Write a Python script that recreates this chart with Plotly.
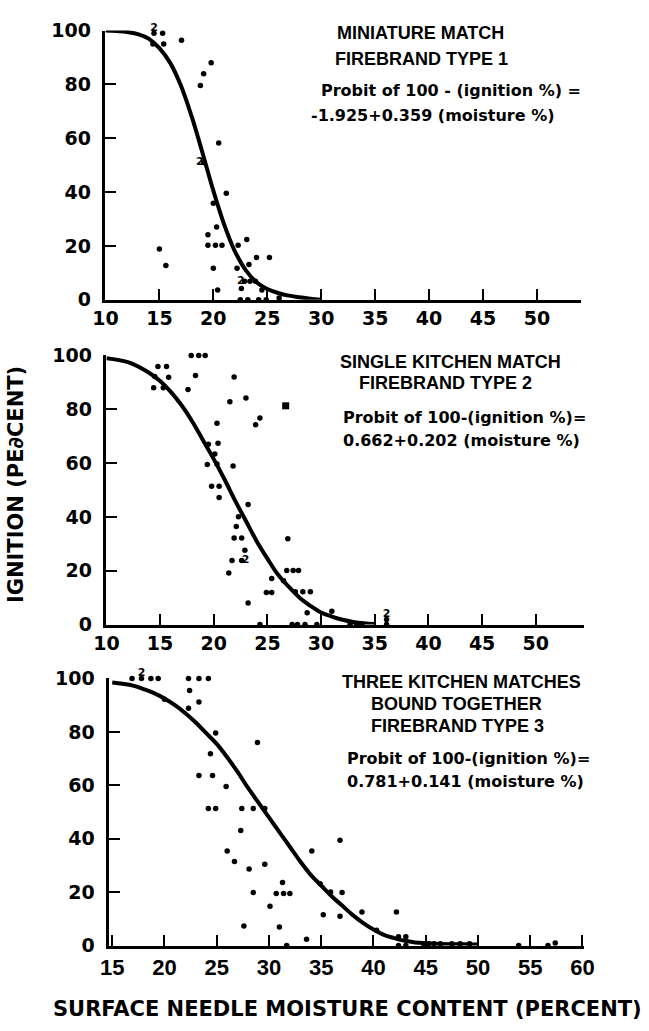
import plotly.graph_objects as go

W, H = 649, 1031

# ---------------- data ----------------
# Panel 1: miniature match
p1_x = [14.5, 15.3, 14.4, 15.4, 17.05, 19.8, 19.1, 18.8, 19.1, 20.5, 21.2, 20.0, 20.3, 19.5, 19.5,
        20.2, 20.8, 22.3, 23.1, 20.0, 22.2, 24.0, 25.2, 15.0, 15.6, 22.9, 23.4, 23.9, 23.3, 22.6,
        24.5, 20.4, 22.5, 23.2, 24.2, 24.9, 26.1]
p1_y = [99, 99, 95, 95, 96.4, 88, 84, 79.6, 51, 58.2, 39.6, 35.8, 27, 24.1, 20.2,
        20.2, 20.2, 20.2, 22.4, 11.7, 11.7, 15.7, 15.7, 18.8, 12.7, 6.9, 6.9, 6.9, 13.1, 4.2,
        3.6, 3.6, 0, 0, 0, 0, 0.6]
p1_curve_x = [10, 11, 12, 13, 14, 15, 16, 17, 18, 19, 20, 21, 22, 23, 24, 25, 26, 27, 28, 29, 30]
p1_curve_y = [100, 99.8, 99.5, 98.7, 97, 93.5, 88, 79.5, 68, 54.5, 40.5, 28, 18, 11, 6.5, 4, 2.5,
              1.5, 0.9, 0.4, 0]
p1_dup_x = [14.5, 19.1, 22.9]
p1_dup_y = [99, 51, 6.9]
p1_dup_pos = ["top center", "middle left", "middle left"]

# Panel 2: single kitchen match
p2_x = [17.9, 18.6, 19.2, 14.8, 15.6, 14.5, 15.8, 14.4, 15.3, 17.6, 18.3, 21.9, 21.5, 23.0, 24.3,
        23.9, 20.3, 19.5, 20.4, 20.1, 21.8, 19.4, 20.3, 19.8, 20.5, 20.5, 23.2, 22.3, 22.1, 21.9,
        22.6, 22.9, 21.7, 22.6, 21.4, 23.2, 25.4, 24.9, 25.4, 26.9, 26.8, 27.4, 27.9, 26.5, 27.6,
        28.3, 29.0, 28.7, 31.0, 24.3, 27.3, 27.8, 28.5, 29.6, 32.7, 33.3, 33.8, 36.1, 36.1]
p2_y = [100, 100, 100, 95.9, 95.9, 92.2, 91.9, 88, 88, 87.4, 92.6, 92, 82.8, 84.2, 76.8,
        74.3, 74.8, 67, 67.4, 63.4, 58.9, 59.5, 59.7, 51.4, 51.4, 47.2, 44.6, 40.1, 36.5, 32.2,
        32.2, 27.6, 23.8, 23.8, 19.2, 8, 17.1, 11.9, 11.9, 31.9, 20.1, 20.1, 20.1, 16.3, 12.2,
        12.2, 12.2, 4.4, 5.0, 0, 0, 0, 0, 0, 0, 0, 0, 1.9, 0]
p2_sq_x = [26.7]
p2_sq_y = [81.3]
p2_curve_x = [10, 12, 14, 15, 16, 17, 18, 19, 20, 21, 22, 23, 24, 25, 26, 27, 28, 29, 30, 31, 32,
              33, 34, 35]
p2_curve_y = [99, 97.5, 93.5, 90.5, 86.5, 81.5, 75.5, 68.5, 61.5, 54, 46, 38.5, 31, 24.5, 18.5, 14,
              10, 7, 4.5, 3, 1.8, 1, 0.5, 0.2]
p2_dup_x = [22.6, 36.1]
p2_dup_y = [23.8, 1.9]
p2_dup_pos = ["middle right", "top center"]

# Panel 3: three kitchen matches
p3_x = [16.9, 17.8, 18.7, 19.4, 22.3, 23.3, 24.2, 22.4, 23.3, 20.0, 22.3, 24.9, 28.9, 24.4, 23.3,
        24.6, 25.9, 24.2, 24.9, 27.4, 28.5, 29.6, 27.3, 26.0, 26.7, 28.1, 29.6, 28.5, 31.3, 30.7,
        31.4, 32.0, 30.1, 27.6, 31.0, 31.7, 34.1, 34.9, 35.2, 33.6, 36.8, 35.9, 37.0, 36.8, 38.9,
        42.2, 40.3, 42.4, 43.1, 42.4, 43.1, 44.8, 45.3, 45.8, 46.4, 47.5, 48.3, 49.2, 53.9, 56.7,
        57.4]
p3_y = [100, 100, 100, 100, 100, 100, 100, 95.5, 91.2, 92.2, 88.8, 79.6, 76, 71.8, 63.7,
        63.7, 59.6, 51.3, 51.3, 51.3, 51.3, 51.3, 43.1, 35.4, 31.5, 28.7, 30.5, 19.9, 23.6, 19.5,
        19.5, 19.5, 14.7, 7.3, 7, 0, 35.4, 23.2, 11.6, 2.4, 39.4, 20.1, 19.9, 11, 12.6,
        12.6, 5.8, 3.3, 3.3, 0, 0, 0.7, 0.7, 0.7, 0.7, 0.7, 0.7, 0.7, 0, 0,
        1]
p3_curve_x = [15, 16, 17, 18, 19, 20, 21, 22, 23, 24, 25, 26, 27, 28, 29, 30, 31, 32, 33, 34, 35,
              36, 37, 38, 39, 40, 41, 42, 43, 44, 45, 46, 48, 50]
p3_curve_y = [98.5, 98, 97.3, 96, 94.5, 92.5, 90, 87, 83.5, 79.5, 75.5, 70.5, 65, 59, 53.5, 48,
              42.5, 37, 31.5, 26.5, 22.5, 18.5, 15, 11.5, 8.5, 6, 4, 2.8, 1.8, 1.2, 0.9, 0.7,
              0.5, 0.4]
p3_dup_x = [17.8]
p3_dup_y = [100]
p3_dup_pos = ["top center"]

y_ticks = [0, 20, 40, 60, 80, 100]
x_ticks_12 = [10, 15, 20, 25, 30, 35, 40, 45, 50]
x_ticks_3 = [15, 20, 25, 30, 35, 40, 45, 50, 55, 60]

# ---------------- figure ----------------
fig = go.Figure()

def add_panel(xs, ys, cx, cy, dx, dy, dpos, xa, ya):
    fig.add_trace(go.Scatter(x=cx, y=cy, mode="lines", line=dict(color="black", width=4, shape="spline"),
                             xaxis=xa, yaxis=ya, hoverinfo="skip", cliponaxis=False))
    fig.add_trace(go.Scatter(x=xs, y=ys, mode="markers", marker=dict(color="black", size=5.5),
                             xaxis=xa, yaxis=ya, cliponaxis=False))
    fig.add_trace(go.Scatter(x=dx, y=dy, mode="text", text=["2"] * len(dx), textposition=dpos,
                             textfont=dict(family="DejaVu Sans", size=11, color="black", weight="bold"),
                             xaxis=xa, yaxis=ya, cliponaxis=False))

add_panel(p1_x, p1_y, p1_curve_x, p1_curve_y, p1_dup_x, p1_dup_y, p1_dup_pos, "x", "y")
add_panel(p2_x, p2_y, p2_curve_x, p2_curve_y, p2_dup_x, p2_dup_y, p2_dup_pos, "x2", "y2")
fig.add_trace(go.Scatter(x=p2_sq_x, y=p2_sq_y, mode="markers",
                         marker=dict(color="black", size=7, symbol="square"),
                         xaxis="x2", yaxis="y2", cliponaxis=False))
add_panel(p3_x, p3_y, p3_curve_x, p3_curve_y, p3_dup_x, p3_dup_y, p3_dup_pos, "x3", "y3")

tickfont = dict(family="DejaVu Sans", size=19, color="black", weight="bold")
common = dict(showline=True, linecolor="black", linewidth=2.5, ticks="inside", ticklen=11,
              tickwidth=2, tickcolor="black", showgrid=False, zeroline=False, fixedrange=True,
              tickfont=tickfont)
ycommon = dict(common, ticklabelstandoff=8)

fig.update_layout(
    width=W, height=H, margin=dict(l=0, r=0, t=0, b=0),
    paper_bgcolor="white", plot_bgcolor="white", showlegend=False,
    xaxis=dict(domain=[96 / W, 590 / W], range=[10, 54.1], anchor="y", tickvals=x_ticks_12, **common),
    yaxis=dict(domain=[1 - 295 / H, 1 - 20 / H], range=[0, 100], anchor="x", tickvals=y_ticks, **ycommon),
    xaxis2=dict(domain=[97 / W, 593 / W], range=[10, 54.5], anchor="y2", tickvals=x_ticks_12, **common),
    yaxis2=dict(domain=[1 - 627 / H, 1 - 352 / H], range=[0, 100], anchor="x2", tickvals=y_ticks, **ycommon),
    xaxis3=dict(domain=[100 / W, 593 / W], range=[14.72, 60.16], anchor="y3", tickvals=x_ticks_3,
                **{**common, "tickfont": dict(family="Liberation Sans", size=22, color="black", weight="bold")}),
    yaxis3=dict(domain=[1 - 955 / H, 1 - 682 / H], range=[0, 100], anchor="x3", tickvals=y_ticks, **ycommon),
)

head = dict(family="Liberation Sans", size=18, color="black", weight="bold")
form = dict(family="DejaVu Sans", size=16, color="black", weight="bold")

def note(text, px, py, font, xanchor="center", angle=0):
    fig.add_annotation(text=text, x=px / W, y=1 - py / H, xref="paper", yref="paper",
                       xanchor=xanchor, yanchor="middle", showarrow=False, font=font, textangle=angle)

# Panel 1 texts
note("MINIATURE MATCH", 423, 22.5, head)
note("FIREBRAND TYPE 1", 424, 49.5, head)
note("Probit of 100 - (ignition %) =", 318, 81.7, form, "left")
note("-1.925+0.359 (moisture %)", 307, 106.7, form, "left")
# Panel 2 texts
note("SINGLE KITCHEN MATCH", 454, 358.5, head)
note("FIREBRAND TYPE 2", 449, 380, head)
note("Probit of 100-(ignition %)=", 341, 415, form, "left")
note("0.662+0.202 (moisture %)", 341, 439, form, "left")
# Panel 3 texts
note("THREE KITCHEN MATCHES", 465.5, 686, head)
note("BOUND TOGETHER", 460.5, 708.3, head)
note("FIREBRAND TYPE 3", 461.5, 731, head)
note("Probit of 100-(ignition %)=", 345, 764, form, "left")
note("0.781+0.141 (moisture %)", 345, 787, form, "left")

# Axis titles
note("IGNITION (PE\u2202CENT)", -12, 484, dict(family="DejaVu Sans", size=21, color="black", weight="bold"),
     xanchor="left", angle=-90)
note("SURFACE NEEDLE MOISTURE CONTENT (PERCENT)", 347, 1019.5,
     dict(family="DejaVu Sans", size=21, color="black", weight="bold"))

fig.write_html("out.html")
